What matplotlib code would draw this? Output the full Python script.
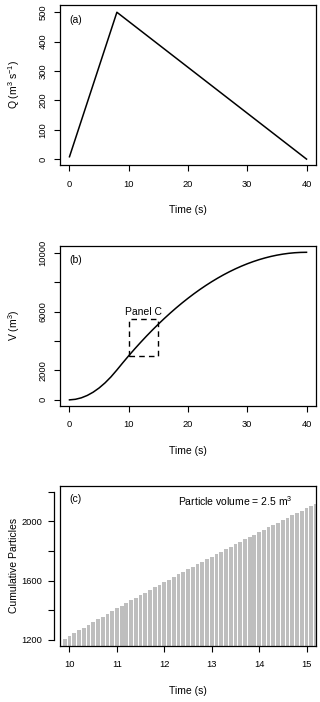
import matplotlib
matplotlib.use("Agg")
import matplotlib.pyplot as plt
from matplotlib.patches import Rectangle

plt.rcParams.update({"font.family": ["Liberation Sans", "DejaVu Sans"],
                     "font.size": 7.5,
                     "mathtext.default": "regular"})

# (a) triangular hydrograph
q_time = [0, 8, 40]
q_flow = [8, 500, 0]

# (b) cumulative volume, read at every second
v_time = [0, 1, 2, 3, 4, 5, 6, 7, 8, 9, 10, 11, 12, 13, 14, 15, 16, 17, 18,
          19, 20, 21, 22, 23, 24, 25, 26, 27, 28, 29, 30, 31, 32, 33, 34, 35,
          36, 37, 38, 39, 40]
v_volume = [0, 39, 139, 301, 524, 809, 1155, 1563, 2032, 2524, 3001, 3462,
            3907, 4337, 4751, 5149, 5532, 5899, 6251, 6587, 6907, 7212, 7501,
            7774, 8032, 8274, 8501, 8712, 8907, 9087, 9251, 9399, 9532, 9649,
            9751, 9837, 9907, 9962, 10001, 10024, 10032]

# zoom window shown as panel (c)
box_time = [10, 15]
box_volume = [3000, 5500]

# (c) cumulative particle count, every 0.1 s
p_time = [9.9, 10.0, 10.1, 10.2, 10.3, 10.4, 10.5, 10.6, 10.7, 10.8, 10.9,
          11.0, 11.1, 11.2, 11.3, 11.4, 11.5, 11.6, 11.7, 11.8, 11.9,
          12.0, 12.1, 12.2, 12.3, 12.4, 12.5, 12.6, 12.7, 12.8, 12.9,
          13.0, 13.1, 13.2, 13.3, 13.4, 13.5, 13.6, 13.7, 13.8, 13.9,
          14.0, 14.1, 14.2, 14.3, 14.4, 14.5, 14.6, 14.7, 14.8, 14.9,
          15.0, 15.1, 15.2]
p_count = [1209, 1228, 1246, 1265, 1283, 1302, 1320, 1339, 1357, 1375, 1394,
           1412, 1430, 1448, 1466, 1484, 1502, 1519, 1537, 1555, 1572,
           1590, 1607, 1625, 1642, 1659, 1677, 1694, 1711, 1728, 1745,
           1762, 1779, 1795, 1812, 1829, 1845, 1862, 1878, 1895, 1911,
           1927, 1944, 1960, 1976, 1992, 2008, 2024, 2040, 2055, 2071,
           2087, 2102, 2118]


def style(ax, xticks, yticks, ylabels, ylabel):
    ax.set_xticks(xticks)
    ax.set_yticks(yticks)
    ax.set_yticklabels(ylabels, rotation=90, va="center")
    ax.tick_params(labelsize=6.7)
    ax.tick_params(axis="x", direction="out", length=4, width=0.8, pad=6.5)
    ax.tick_params(axis="y", direction="out", length=4, width=0.8, pad=5)
    for s in ax.spines.values():
        s.set_linewidth(0.9)
    ax.set_xlabel("Time (s)")
    ax.xaxis.set_label_coords(0.5, -0.25)
    ax.xaxis.label.set_va("top")
    ax.set_ylabel(ylabel)
    ax.yaxis.set_label_coords(-0.18, 0.5)
    ax.yaxis.label.set_va("center")


fig = plt.figure(figsize=(3.2, 7.02), dpi=100)
ax1 = fig.add_axes([0.1875, 0.765, 0.8, 0.228])
ax2 = fig.add_axes([0.1875, 0.422, 0.8, 0.228])
ax3 = fig.add_axes([0.1875, 0.080, 0.8, 0.228])

# (a)
ax1.plot(q_time, q_flow, color="black", lw=1.1)
ax1.set_xlim(-1.6, 41.6)
ax1.set_ylim(-20, 525)
style(ax1, [0, 10, 20, 30, 40], [0, 100, 200, 300, 400, 500],
      ["0", "100", "200", "300", "400", "500"], "Q (m$^3$ s$^{-1}$)")
ax1.text(0, 475, "(a)", ha="left", va="center")

# (b)
ax2.plot(v_time, v_volume, color="black", lw=1.1)
ax2.add_patch(Rectangle((box_time[0], box_volume[0]),
                        box_time[1] - box_time[0],
                        box_volume[1] - box_volume[0],
                        fill=False, ec="black", lw=1, ls=(0, (4, 3))))
ax2.text((box_time[0] + box_time[1]) / 2, box_volume[1] + 150, "Panel C",
         ha="center", va="bottom")
ax2.set_xlim(-1.6, 41.6)
ax2.set_ylim(-400, 10480)
style(ax2, [0, 10, 20, 30, 40], [0, 2000, 4000, 6000, 8000, 10000],
      ["0", "2000", "", "6000", "", "10000"], "V (m$^3$)")
ax2.text(0, 9480, "(b)", ha="left", va="center")

# (c)
ax3.bar(p_time, p_count, width=0.08, color="#BEBEBE", edgecolor="none")
ax3.set_xlim(9.8, 15.2)
ax3.set_ylim(1160, 2240)
style(ax3, [10, 11, 12, 13, 14, 15], [1200, 1400, 1600, 1800, 2000, 2200],
      ["1200", "", "1600", "", "2000", ""], "Cumulative Particles")
ax3.spines["left"].set_position(("outward", 4))
ax3.spines["left"].set_bounds(1200, 2200)
ax3.plot([0, 0], [0, 1], transform=ax3.transAxes, color="black", lw=0.9,
         clip_on=False)
ax3.yaxis.set_label_coords(-0.18, 0.5)
ax3.text(10.0, 2148, "(c)", ha="left", va="center")
ax3.text(14.7, 2140, "Particle volume = 2.5 m$^3$", ha="right", va="center")

fig.savefig("out.png", dpi=100)
